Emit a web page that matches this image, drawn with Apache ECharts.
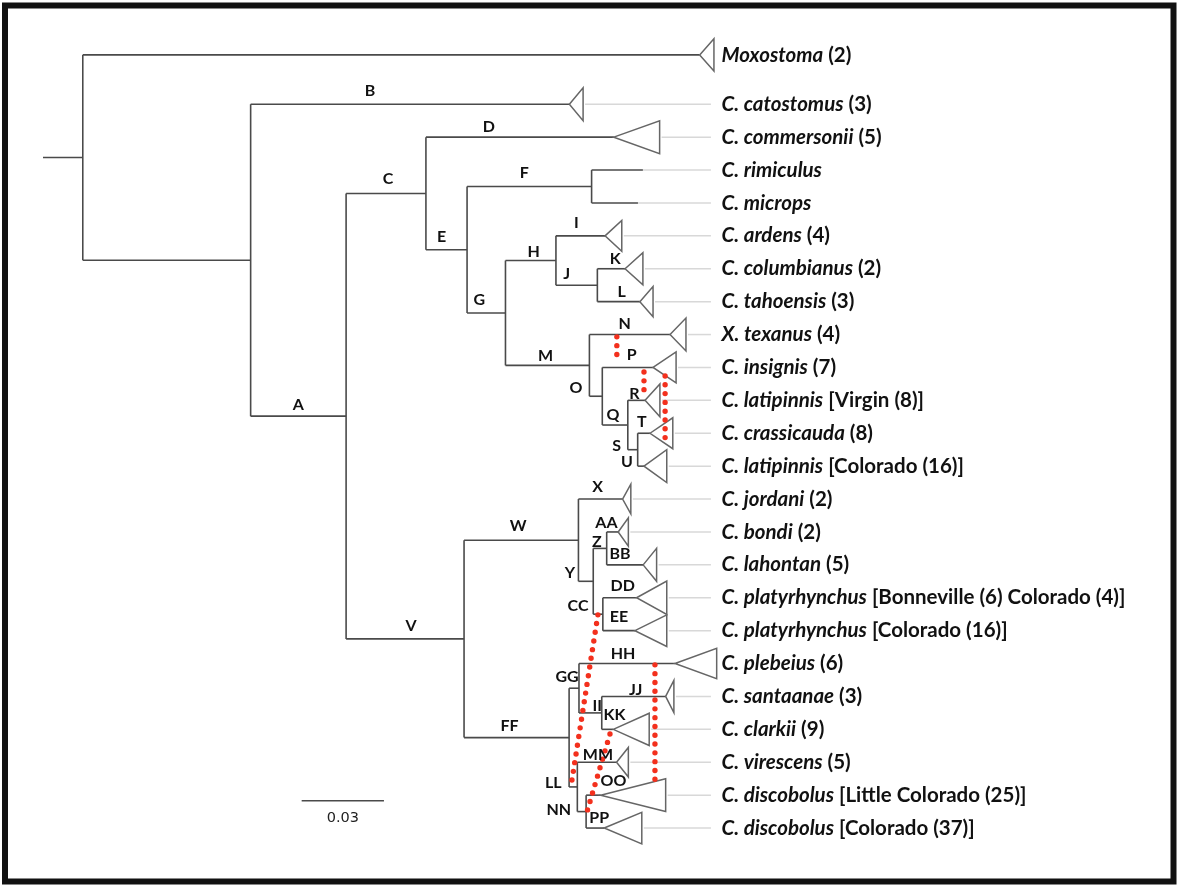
<!DOCTYPE html>
<html><head><meta charset="utf-8">
<script src="https://cdn.jsdelivr.net/npm/echarts@6/dist/echarts.min.js"></script>
<style>html,body{margin:0;padding:0;background:#fff}#c{width:1181px;height:888px}</style>
</head><body><div id="c"></div>
<script>
// ---------- tips (collapsed clades) ----------
const tipKeys   = ['mox','cat','com','rim','mic','ard','col','tah','tex','ins','latV','cra','latC','jor','bon','lah','plaBC','plaC','ple','san','cla','vir','disLC','disC'];
const tipNames  = ['Moxostoma','C. catostomus','C. commersonii','C. rimiculus','C. microps','C. ardens','C. columbianus','C. tahoensis','X. texanus','C. insignis','C. latipinnis','C. crassicauda','C. latipinnis','C. jordani','C. bondi','C. lahontan','C. platyrhynchus','C. platyrhynchus','C. plebeius','C. santaanae','C. clarkii','C. virescens','C. discobolus','C. discobolus'];
const tipSuffix = ['(2)','(3)','(5)','','','(4)','(2)','(3)','(4)','(7)','[Virgin (8)]','(8)','[Colorado (16)]','(2)','(2)','(5)','[Bonneville (6) Colorado (4)]','[Colorado (16)]','(6)','(3)','(9)','(5)','[Little Colorado (25)]','[Colorado (37)]'];
const tipRows   = [0,1.5,2.5,3.5,4.5,5.5,6.5,7.5,8.5,9.5,10.5,11.5,12.5,13.5,14.5,15.5,16.5,17.5,18.5,19.5,20.5,21.5,22.5,23.5];
// depth (subst./site) where the clade starts (triangle apex or tip end)
const tipApex   = [0.2394,0.1919,0.2081,0.2187,0.2169,0.2049,0.2122,0.2176,0.2286,0.2224,0.2195,0.2213,0.2191,0.2113,0.2097,0.2188,0.2164,0.2158,0.2304,0.2270,0.2079,0.2091,0.2033,0.2046];
// deepest tip of the clade (triangle base)
const tipDepth  = [0.2446,0.1969,0.2248,0.2187,0.2169,0.2110,0.2187,0.2224,0.2344,0.2308,0.2249,0.2296,0.2274,0.2143,0.2134,0.2237,0.2274,0.2274,0.2456,0.2300,0.2210,0.2134,0.2270,0.2183];
// half height of collapsed clade in rows (0 = single taxon)
const tipSpread = [0.49,0.50,0.50,0,0,0.47,0.49,0.46,0.50,0.47,0.50,0.47,0.50,0.45,0.43,0.50,0.51,0.48,0.46,0.49,0.49,0.45,0.50,0.48];
const tipBranchLabel = ['','B','D','','','I','K','L','N','P','R','T','U','X','AA','BB','DD','EE','HH','JJ','KK','MM','OO','PP'];

// ---------- internal nodes ----------
const nodeNames    = ['root','n1','A','C','E','F','G','H','J','M','O','Q','S','V','W','Y','Z','CC','FF','GG','II','LL','NN'];
const nodeDepth    = [0.0145,0.0757,0.1105,0.1396,0.1546,0.2000,0.1686,0.1870,0.2021,0.1992,0.2039,0.2132,0.2168,0.1535,0.1952,0.2006,0.2055,0.2041,0.1918,0.1954,0.2037,0.1948,0.1980];
const nodeChildren = [['mox','n1'],['cat','A'],['C','V'],['com','E'],['F','G'],['rim','mic'],['H','M'],['ard','J'],['col','tah'],['tex','O'],['ins','Q'],['latV','S'],['cra','latC'],['W','FF'],['jor','Y'],['Z','CC'],['bon','lah'],['plaBC','plaC'],['GG','LL'],['ple','II'],['san','cla'],['vir','NN'],['disLC','disC']];

// ---------- red dotted links (depth, row) ----------
const linkDepth1 = [0.2092,0.2191,0.2268,0.2023,0.2067,0.2231];
const linkRow1   = [8.57,9.64,9.76,17.02,20.64,18.54];
const linkDepth2 = [0.2092,0.2191,0.2268,0.1925,0.1983,0.2231];
const linkRow2   = [9.36,10.43,11.70,22.22,23.01,22.10];

// ---------- scale bar ----------
const scaleBarLength = 0.03;
const scaleBarLabel = '0.03';

// ---------- layout config ----------
const leaderEnd = 0.2435, labelDepth = 0.2474;
const scaleBarAt = [0.0943, 22.67];
const labelOffsets = {A:[0,-11],B:[-40,-13],C:[2,-15],D:[-31,-10],E:[-5,-13],F:[-5,-14],G:[-7,-13],H:[3,-9],I:[-4,-13],J:[-10,-11],K:[4,-10],L:[3,-10],M:[-2,-10],N:[-5,-11],O:[-20,-8],P:[4,-13],Q:[-2,-10],R:[-2,-7],S:[-16,-4],T:[-2,-11],U:[-14,-4],V:[6,-13],W:[-3,-14],X:[-3,-12],Y:[-16,-8],Z:[-3,-7],AA:[-6,-9],BB:[-5,-11],CC:[-20,-8],DD:[3,-12],EE:[0,-14],FF:[-7,-12],GG:[-7,-11],HH:[-4,-10],II:[7,-7],JJ:[2,-7],KK:[7,-15],LL:[-20,-4],MM:[1,-7],NN:[-23,-2],OO:[20,-14],PP:[4,-10]};

// ---------- build tree geometry in data units ----------
const rowOf = {}, depthOf = {}, labelOf = {};
tipKeys.forEach((k,i)=>{ rowOf[k]=tipRows[i]; depthOf[k]=tipApex[i]; labelOf[k]=tipBranchLabel[i]; });
nodeNames.forEach((n,i)=>{ depthOf[n]=nodeDepth[i]; labelOf[n]=(n==='root'||n==='n1')?'':n; });
function rowFor(n){ if(n in rowOf) return rowOf[n]; const i=nodeNames.indexOf(n); const r=(rowFor(nodeChildren[i][0])+rowFor(nodeChildren[i][1]))/2; rowOf[n]=r; return r; }
nodeNames.forEach(rowFor);

const segData = [[0,rowOf.root,depthOf.root,rowOf.root]];
const branchLabelData = [], branchLabelText = [];
nodeNames.forEach((n,i)=>{
  const d = nodeDepth[i];
  const [c0,c1] = nodeChildren[i];
  segData.push([d,rowOf[c0],d,rowOf[c1]]);
  [c0,c1].forEach(c=>{
    segData.push([d,rowOf[c],depthOf[c],rowOf[c]]);
    if(labelOf[c]){ branchLabelText.push(labelOf[c]); branchLabelData.push([(d+depthOf[c])/2,rowOf[c],branchLabelText.length-1]); }
  });
});
const leaderData = [], triData = [], tipLabelData = [];
tipKeys.forEach((k,i)=>{
  if(tipDepth[i] < leaderEnd) leaderData.push([tipDepth[i],tipRows[i],leaderEnd,tipRows[i],tipSpread[i]>0?2:0]);
  if(tipSpread[i]>0) triData.push([tipApex[i],tipRows[i],tipDepth[i],tipSpread[i]]);
  tipLabelData.push([labelDepth,tipRows[i],i]);
});
const linkData = linkDepth1.map((d,i)=>[d,linkRow1[i],linkDepth2[i],linkRow2[i]]);
const scaleData = [[scaleBarAt[0],scaleBarAt[1],scaleBarAt[0]+scaleBarLength,scaleBarAt[1]]];

const PX = 2743; // px per unit
const chart = echarts.init(document.getElementById('c'));
function lineRender(color,width,dash){
  return (p,api)=>{
    const a=api.coord([api.value(0),api.value(1)]), b=api.coord([api.value(2),api.value(3)]);
    const off = api.value(4)||0;
    return {type:'line',silent:true,shape:{x1:a[0]+off,y1:a[1],x2:b[0],y2:b[1]},
      style:{stroke:color,lineWidth:width,lineDash:dash||null,lineCap:dash?'round':'butt'}};
  };
}
const FONT = 'Lato';
const TS = 20.5;
chart.setOption({
  animation:false,
  backgroundColor:'#fff',
  grid:{left:43,top:22,width:0.40*PX,height:26*32.9,containLabel:false},
  xAxis:{type:'value',min:0,max:0.40,show:false},
  yAxis:{type:'value',min:-1,max:25,inverse:true,show:false},
  series:[
    {type:'custom',name:'leaders',data:leaderData,renderItem:lineRender('#d8d8d8',1.5),encode:{x:[0,2],y:[1,3]},z:1},
    {type:'custom',name:'branches',data:segData,renderItem:lineRender('#4a4a4a',1.6),encode:{x:[0,2],y:[1,3]},z:2},
    {type:'custom',name:'clades',data:triData,encode:{x:[0,2],y:1},z:3,
      renderItem:(p,api)=>{
        const r=api.value(1), s=api.value(3);
        const ap=api.coord([api.value(0),r]), t=api.coord([api.value(2),r-s]), b=api.coord([api.value(2),r+s]);
        return {type:'polygon',silent:true,shape:{points:[ap,t,b]},style:{fill:'#fff',stroke:'#666',lineWidth:1.5}};
      }},
    {type:'custom',name:'links',data:linkData,renderItem:lineRender('#f3301d',5.4,[0,8.8]),encode:{x:[0,2],y:[1,3]},z:5},
    {type:'custom',name:'branchLabels',data:branchLabelData,encode:{x:0,y:1},z:6,
      renderItem:(p,api)=>{
        const t=branchLabelText[api.value(2)], o=labelOffsets[t]||[0,-13];
        const pt=api.coord([api.value(0),api.value(1)]);
        return {type:'text',silent:true,x:pt[0]+o[0],y:pt[1]+o[1],
          style:{text:t,align:'center',verticalAlign:'middle',fill:'#111',font:'bold 16px '+FONT}};
      }},
    {type:'custom',name:'tipLabels',data:tipLabelData,encode:{x:0,y:1},z:6,
      renderItem:(p,api)=>{
        const i=api.value(2);
        const pt=api.coord([api.value(0),api.value(1)]);
        const txt='{i|'+tipNames[i]+'}'+(tipSuffix[i]?'{n| '+tipSuffix[i]+'}':'');
        return {type:'text',silent:true,x:pt[0],y:pt[1],
          style:{text:txt,align:'left',verticalAlign:'middle',fill:'#111',font:'bold '+TS+'px '+FONT,
            rich:{i:{fontStyle:'italic',fontWeight:'bold',fontSize:TS,fontFamily:FONT,fill:'#111'},
                  n:{fontWeight:'bold',fontSize:TS,fontFamily:FONT,fill:'#111'}}}};
      }},
    {type:'custom',name:'scale',data:scaleData,encode:{x:[0,2],y:[1,3]},z:6,
      renderItem:(p,api)=>{
        const a=api.coord([api.value(0),api.value(1)]), b=api.coord([api.value(2),api.value(3)]);
        return {type:'group',children:[
          {type:'line',silent:true,shape:{x1:a[0],y1:a[1],x2:b[0],y2:b[1]},style:{stroke:'#4a4a4a',lineWidth:1.6}},
          {type:'text',silent:true,x:(a[0]+b[0])/2,y:a[1]+17,style:{text:scaleBarLabel,align:'center',verticalAlign:'middle',fill:'#222',font:'14.5px "DejaVu Sans"'}}
        ]};
      }}
  ],
  graphic:[{type:'rect',silent:true,shape:{x:5,y:5.5,width:1168.5,height:876},style:{fill:'none',stroke:'#111',lineWidth:6},z:100}]
});
</script></body></html>
